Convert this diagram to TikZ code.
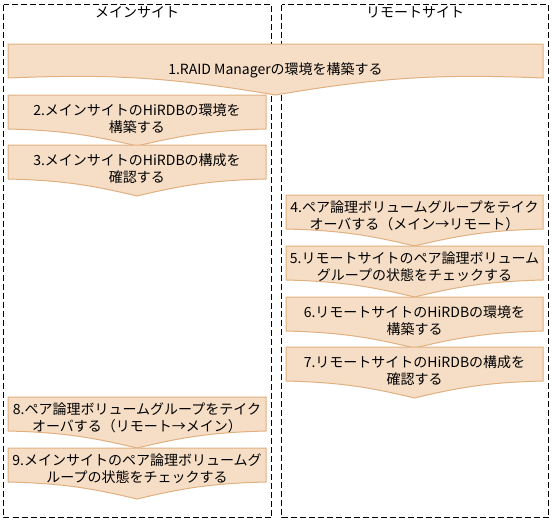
\documentclass[tikz,border=0pt]{standalone}
\usepackage{fontspec}
\setmainfont{Noto Sans CJK JP}
\usetikzlibrary{calc}
\definecolor{stepfill}{RGB}{246,222,198}
\definecolor{stepedge}{RGB}{224,176,128}

\begin{document}
\begin{tikzpicture}[x=1pt, y=-1pt,
  site/.style={dash pattern=on 6pt off 3pt, line width=1pt},
  chev/.style={fill=stepfill, draw=stepedge, line width=1pt},
  lbl/.style={align=center, inner sep=0pt, font=\fontsize{14}{17}\selectfont}]
  \useasboundingbox (0,0) rectangle (552,522);
  % the two sites
  \draw[site] (3.5,4.5) rectangle (271.5,517.5);
  \draw[site] (281.5,4.5) rectangle (548.5,517.5);
  \node[lbl] (main) at (137,12.5) {メインサイト};
  \node[lbl] (remote) at (415,12.5) {リモートサイト};
  % step shapes: left x / right x / top y
  \foreach \xa/\xb/\t in {8/543/44, 8/266/95, 8/266/145, 286/543/195, 286/543/246,
                          286/543/297, 286/543/347, 8/266/397, 8/266/448}
    \draw[chev] (\xa,\t) -- (\xb,\t) -- (\xb,\t+34)
      to[bend right=6] ({(\xa+\xb)/2},\t+51) to[bend right=6] (\xa,\t+34) -- cycle;
  % step texts
  \node[lbl] (s1) at (275.5,70) {1.RAID Managerの環境を構築する};
  \node[lbl] (s2) at (137,119) {2.メインサイトのHiRDBの環境を\\構築する};
  \node[lbl] (s3) at (137,169) {3.メインサイトのHiRDBの構成を\\確認する};
  \node[lbl] (s4) at (414.5,216) {4.ペア論理ボリュームグループをテイク\\オーバする（メイン→リモート）};
  \node[lbl] (s5) at (414.5,267) {5.リモートサイトのペア論理ボリューム\\グループの状態をチェックする};
  \node[lbl] (s6) at (414.5,321) {6.リモートサイトのHiRDBの環境を\\構築する};
  \node[lbl] (s7) at (414.5,371) {7.リモートサイトのHiRDBの構成を\\確認する};
  \node[lbl] (s8) at (137,418) {8.ペア論理ボリュームグループをテイク\\オーバする（リモート→メイン）};
  \node[lbl] (s9) at (137,469) {9.メインサイトのペア論理ボリュームグ\\ループの状態をチェックする};
\end{tikzpicture}
\end{document}
